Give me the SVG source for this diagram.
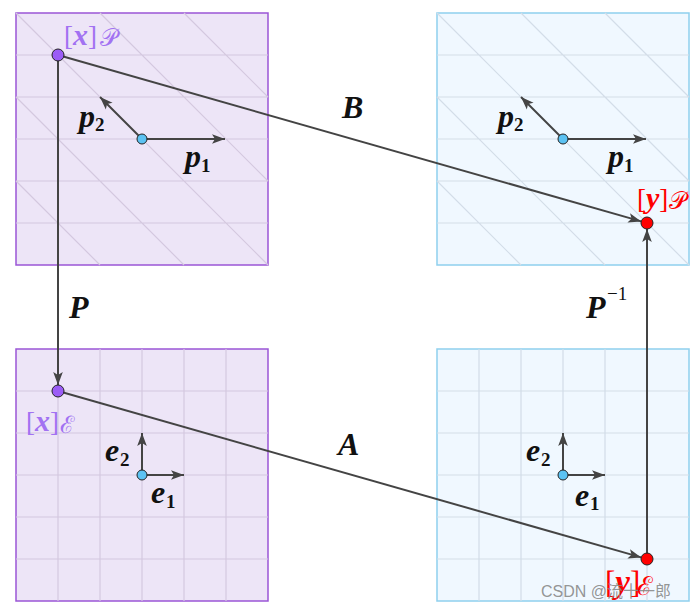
<svg xmlns="http://www.w3.org/2000/svg" width="692" height="610" viewBox="0 0 692 610">
<style>
.pbox{fill:#ede5f7;stroke:#9a55d6;stroke-width:1.5}
.bbox{fill:#f0f8ff;stroke:#8fd0ee;stroke-width:1.5}
.pg{stroke:#d4c8df;stroke-width:1.2;fill:none}
.bg{stroke:#d3dde8;stroke-width:1.2;fill:none}
.vec{stroke:#444;stroke-width:2;fill:none;marker-end:url(#ah)}
.orig{fill:#5cc2f2;stroke:#222;stroke-width:1}
.m{font-family:"Liberation Serif","DejaVu Serif",serif;font-weight:bold;font-style:italic;font-size:32px;fill:#111}
.sub{font-family:"Liberation Serif","DejaVu Serif",serif;font-weight:bold;font-size:19px;fill:#111}
.br{font-family:"Liberation Serif","DejaVu Serif",serif;font-size:27px}
.bx{font-weight:bold;font-style:italic;font-size:30px}
.cal{font-family:"DejaVu Serif","Liberation Serif",serif;font-size:24px}
.pur{fill:#a272f2}
.red{fill:#ff0000}
</style>
<defs>
<marker id="ah" markerUnits="userSpaceOnUse" markerWidth="16" markerHeight="12" viewBox="-14 -6 16 12" refX="0" refY="0" orient="auto">
<path d="M0,0 L-13,-4.8 L-10,0 L-13,4.8 Z" fill="#444"/>
</marker>
</defs>

<g id="panel-tl">
<rect class="pbox" x="16" y="13" width="252" height="252"/>
<path class="pg" d="M16,55H268M16,97H268M16,139H268M16,181H268M16,223H268M16,181L100,265M16,97L184,265M16,13L268,265M100,13L268,181M184,13L268,97"/>
<line class="vec" x1="142" y1="139" x2="225" y2="139"/>
<line class="vec" x1="142" y1="139" x2="100" y2="97"/>
<circle class="orig" cx="142" cy="139" r="5"/>
<text class="m" x="79" y="127">p</text><text class="sub" x="95" y="131">2</text>
<text class="m" x="185" y="167">p</text><text class="sub" x="201" y="172">1</text>
</g>

<g id="panel-tr">
<rect class="bbox" x="437" y="13" width="252" height="252"/>
<path class="bg" d="M437,55H689M437,97H689M437,139H689M437,181H689M437,223H689M437,181L521,265M437,97L605,265M437,13L689,265M521,13L689,181M605,13L689,97"/>
<line class="vec" x1="563" y1="139" x2="646" y2="139"/>
<line class="vec" x1="563" y1="139" x2="521" y2="97"/>
<circle class="orig" cx="563" cy="139" r="5"/>
<text class="m" x="498" y="127">p</text><text class="sub" x="514" y="131">2</text>
<text class="m" x="608" y="167">p</text><text class="sub" x="624" y="172">1</text>
</g>

<g id="panel-bl">
<rect class="pbox" x="16" y="349" width="252" height="252"/>
<path class="pg" d="M16,391H268M16,433H268M16,475H268M16,517H268M16,559H268M58,349V601M100,349V601M142,349V601M184,349V601M226,349V601"/>
<line class="vec" x1="142" y1="475" x2="184" y2="475"/>
<line class="vec" x1="142" y1="475" x2="142" y2="433"/>
<circle class="orig" cx="142" cy="475" r="5"/>
<text class="m" x="105" y="461">e</text><text class="sub" x="120" y="466">2</text>
<text class="m" x="151" y="503">e</text><text class="sub" x="166" y="508">1</text>
</g>

<g id="panel-br">
<rect class="bbox" x="437" y="349" width="252" height="252"/>
<path class="bg" d="M437,391H689M437,433H689M437,475H689M437,517H689M437,559H689M479,349V601M521,349V601M563,349V601M605,349V601M647,349V601"/>
<line class="vec" x1="563" y1="475" x2="605" y2="475"/>
<line class="vec" x1="563" y1="475" x2="563" y2="433"/>
<circle class="orig" cx="563" cy="475" r="5"/>
<text class="m" x="526" y="461">e</text><text class="sub" x="541" y="466">2</text>
<text class="m" x="575" y="506">e</text><text class="sub" x="590" y="510">1</text>
</g>

<g id="connectors">
<line id="edge-B" class="vec" x1="58" y1="55" x2="641.2" y2="221.4"/>
<line id="edge-P" class="vec" x1="58" y1="55" x2="58" y2="385"/>
<line id="edge-A" class="vec" x1="58" y1="391" x2="641.2" y2="557.4"/>
<line id="edge-Pinv" class="vec" x1="647" y1="559" x2="647" y2="229"/>
<text class="m" x="342" y="118">B</text>
<text class="m" x="69" y="318">P</text>
<text class="m" x="586" y="318">P</text>
<text x="607" y="300" style="font-family:'Liberation Serif',serif;font-size:19px;fill:#111">−1</text>
<text class="m" x="338" y="455">A</text>
</g>

<g id="node-xP">
<circle cx="58" cy="55" r="6" fill="#9b5cf6" stroke="#222" stroke-width="1"/>
<text class="br pur" x="64" y="45">[<tspan class="bx">x</tspan>]</text>
<text class="cal pur" x="100" y="46">𝒫</text>
</g>
<g id="node-xE">
<circle cx="58" cy="391" r="6" fill="#9b5cf6" stroke="#222" stroke-width="1"/>
<text class="br pur" x="26" y="431">[<tspan class="bx">x</tspan>]</text>
<text class="cal pur" x="60" y="433">ℰ</text>
</g>
<g id="node-yP">
<circle cx="647" cy="223" r="6" fill="#ff0000" stroke="#222" stroke-width="1"/>
<text class="br red" x="637" y="208">[<tspan class="bx">y</tspan>]</text>
<text class="cal red" x="669" y="209">𝒫</text>
</g>
<g id="node-yE">
<circle cx="647" cy="559" r="6" fill="#ff0000" stroke="#222" stroke-width="1"/>
<text class="br red" x="605" y="593" style="font-size:31px">[<tspan class="bx" style="font-size:33px">y</tspan>]</text>
<text class="cal red" x="637" y="595" style="font-size:26px">ℰ</text>
</g>

<text x="541" y="597" style="font-family:'Liberation Sans','Noto Sans CJK SC',sans-serif;font-size:16px;fill:#888" fill-opacity="0.9">CSDN @流十一郎</text>
</svg>
